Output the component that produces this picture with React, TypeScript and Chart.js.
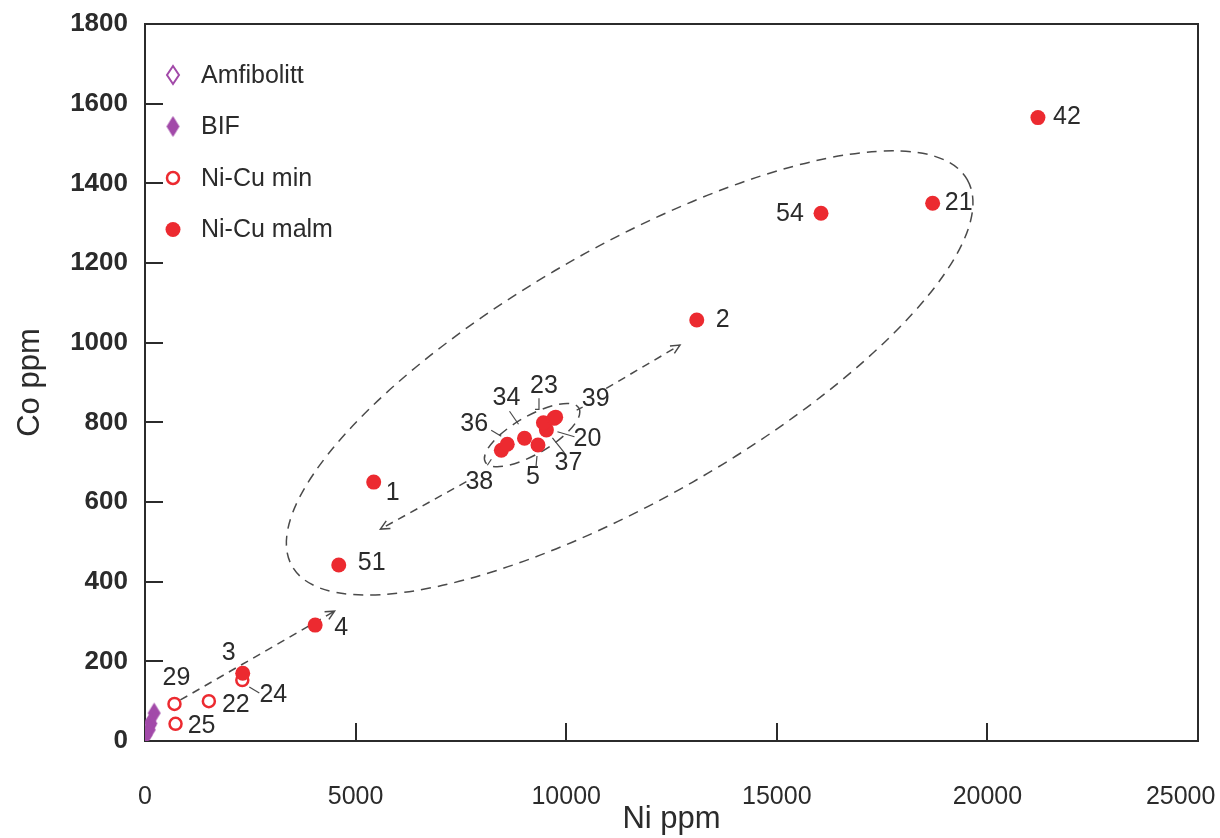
import { useEffect, useRef } from "react";
import { Chart, registerables } from "chart.js";

Chart.register(...registerables);

const FONT = "'Liberation Sans', Arial, Helvetica, sans-serif";
const RED = "#ec2a30";
const PURPLE = "#a24aa9";
const INK = "#2b2b2b";
const LINE = "#4a4a4a";

// Ni-Cu malm (massive ore samples)
const malmIds = ["42", "21", "54", "2", "1", "51", "4", "3", "38", "36", "34", "5", "37", "20", "23", "39"];
const malmNi = [21200, 18700, 16050, 13100, 5430, 4600, 4040, 2320, 8460, 8600, 9010, 9330, 9530, 9460, 9710, 9750];
const malmCo = [1565, 1350, 1325, 1057, 650, 442, 291, 170, 730, 745, 760, 743, 781, 799, 810, 813];

// Ni-Cu min (mineralised samples)
const minIds = ["29", "22", "25", "24"];
const minNi = [700, 1516, 725, 2310];
const minCo = [93, 100, 43, 153];

// BIF
const bifNi = [218, 139, 100, 19];
const bifCo = [70, 44, 28, 15];

// Amfibolitt
const amfNi = [100];
const amfCo = [40];

const legendOrder = ["Amfibolitt", "BIF", "Ni-Cu min", "Ni-Cu malm"];

// Sample-number label placement: [dx, dy] from the marker centre, in px
const labelOffsets: Record<string, [number, number]> = {
  "42": [29, 0], "21": [26, 0], "54": [-31, 1], "2": [26, 0], "1": [19, 11], "51": [33, -2],
  "4": [26, 3], "3": [-14, -20], "38": [-22, 32], "36": [-33, -20], "34": [-18, -40],
  "5": [-5, 32], "37": [22, 33], "20": [44, 16], "23": [-10, -32], "39": [40, -18],
  "29": [2, -26], "22": [27, 4], "25": [26, 2], "24": [31, 15],
};

// Leader lines (polylines relative to the marker centre, px)
const leaders: Record<string, number[][]> = {
  "38": [[-14, 15], [-10, 9]],
  "36": [[-16, -14], [-6, -8]],
  "34": [[-15, -27], [-6, -14]],
  "5": [[-2, 22], [-1, 11]],
  "37": [[18, 23], [6, 8]],
  "20": [[31, 14], [14, 9]],
  "23": [[-15, -20], [-15, -9], [-19, -9]],
  "39": [[27, -10], [21, -7]],
  "24": [[7, 7], [17, 13]],
};

// Dashed envelopes: centre in data units, radii in px, rotation in degrees
const envelopeNi = [11507, 9191];
const envelopeCo = [924, 768];
const envelopeRx = [389, 54];
const envelopeRy = [126, 19];
const envelopeRot = [-29.8, -30];

// Dashed trend arrows (data units), head at the "to" end
const arrowFromNi = [840, 7630, 10950];
const arrowFromCo = [103, 651, 885];
const arrowToNi = [4500, 5590, 12700];
const arrowToCo = [326, 532, 994];

function diamond(w: number, h: number, fill: string | null, stroke: string | null, lw: number) {
  const c = document.createElement("canvas");
  const pad = lw + 1;
  c.width = w + pad * 2;
  c.height = h + pad * 2;
  const ctx = c.getContext("2d")!;
  ctx.beginPath();
  ctx.moveTo(c.width / 2, pad);
  ctx.lineTo(c.width - pad, c.height / 2);
  ctx.lineTo(c.width / 2, c.height - pad);
  ctx.lineTo(pad, c.height / 2);
  ctx.closePath();
  if (fill) {
    ctx.fillStyle = fill;
    ctx.fill();
  }
  if (stroke) {
    ctx.lineWidth = lw;
    ctx.strokeStyle = stroke;
    ctx.stroke();
  }
  return c;
}

const toPoints = (xs: number[], ys: number[]) => xs.map((x, i) => ({ x, y: ys[i] }));

export default function App() {
  const ref = useRef<HTMLCanvasElement>(null);

  useEffect(() => {
    const canvas = ref.current;
    if (!canvas) return;

    const bifMark = diamond(13, 21, PURPLE, null, 0);
    const amfMark = diamond(12, 18, "#ffffff", PURPLE, 2);

    const annotations = {
      id: "annotations",
      beforeDatasetsDraw(chart: any) {
        const { ctx, scales } = chart;
        const xs = scales.x;
        const ys = scales.y;
        ctx.save();
        ctx.strokeStyle = LINE;
        ctx.lineWidth = 1.5;
        // envelopes
        ctx.setLineDash([10, 7]);
        envelopeNi.forEach((ni, i) => {
          const cx = xs.getPixelForValue(ni);
          const cy = ys.getPixelForValue(envelopeCo[i]);
          ctx.beginPath();
          ctx.ellipse(cx, cy, envelopeRx[i], envelopeRy[i], (envelopeRot[i] * Math.PI) / 180, 0, Math.PI * 2);
          ctx.stroke();
        });
        // arrows
        arrowFromNi.forEach((ni, i) => {
          const x1 = xs.getPixelForValue(ni);
          const y1 = ys.getPixelForValue(arrowFromCo[i]);
          const x2 = xs.getPixelForValue(arrowToNi[i]);
          const y2 = ys.getPixelForValue(arrowToCo[i]);
          ctx.setLineDash([8, 6]);
          ctx.beginPath();
          ctx.moveTo(x1, y1);
          ctx.lineTo(x2, y2);
          ctx.stroke();
          const ang = Math.atan2(y2 - y1, x2 - x1);
          ctx.setLineDash([]);
          ctx.beginPath();
          ctx.moveTo(x2 - 10 * Math.cos(ang - 0.45), y2 - 10 * Math.sin(ang - 0.45));
          ctx.lineTo(x2, y2);
          ctx.lineTo(x2 - 10 * Math.cos(ang + 0.45), y2 - 10 * Math.sin(ang + 0.45));
          ctx.stroke();
        });
        ctx.restore();
      },
      afterDatasetsDraw(chart: any) {
        const { ctx, chartArea } = chart;
        ctx.save();
        // frame on top and right
        ctx.strokeStyle = INK;
        ctx.lineWidth = 2;
        ctx.beginPath();
        ctx.moveTo(chartArea.left, chartArea.top);
        ctx.lineTo(chartArea.right, chartArea.top);
        ctx.lineTo(chartArea.right, chartArea.bottom);
        ctx.stroke();

        // sample labels and leaders
        ctx.font = `25px ${FONT}`;
        ctx.fillStyle = INK;
        ctx.textAlign = "center";
        ctx.textBaseline = "middle";
        const idSets: Record<string, string[]> = { "Ni-Cu malm": malmIds, "Ni-Cu min": minIds };
        chart.data.datasets.forEach((ds: any, di: number) => {
          const ids = idSets[ds.label];
          if (!ids) return;
          const meta = chart.getDatasetMeta(di);
          meta.data.forEach((pt: any, j: number) => {
            const id = ids[j];
            const off = labelOffsets[id];
            if (off) ctx.fillText(id, pt.x + off[0], pt.y + off[1]);
            const ld = leaders[id];
            if (ld) {
              ctx.strokeStyle = LINE;
              ctx.lineWidth = 1.2;
              ctx.beginPath();
              ld.forEach((p, k) => (k === 0 ? ctx.moveTo(pt.x + p[0], pt.y + p[1]) : ctx.lineTo(pt.x + p[0], pt.y + p[1])));
              ctx.stroke();
            }
          });
        });

        // legend in the upper-left corner of the plot
        const lx = chartArea.left + 28;
        legendOrder.forEach((name, k) => {
          const ly = chartArea.top + 51 + k * 51.5;
          const ds = chart.data.datasets.find((d: any) => d.label === name);
          if (!ds) return;
          if (ds.pointStyle instanceof HTMLCanvasElement) {
            const img = ds.pointStyle as HTMLCanvasElement;
            ctx.drawImage(img, lx - img.width / 2, ly - img.height / 2);
          } else {
            ctx.beginPath();
            ctx.arc(lx, ly, ds.pointRadius, 0, Math.PI * 2);
            ctx.fillStyle = ds.backgroundColor;
            ctx.fill();
            if (ds.borderWidth) {
              ctx.lineWidth = ds.borderWidth;
              ctx.strokeStyle = ds.borderColor;
              ctx.stroke();
            }
          }
          ctx.font = `25px ${FONT}`;
          ctx.fillStyle = INK;
          ctx.textAlign = "left";
          ctx.fillText(name, lx + 28, ly + 1);
        });
        ctx.restore();
      },
    };

    const chart = new Chart(canvas, {
      type: "scatter",
      data: {
        datasets: [
          {
            label: "Ni-Cu malm",
            data: toPoints(malmNi, malmCo),
            pointStyle: "circle",
            pointRadius: 7.5,
            backgroundColor: RED,
            borderColor: RED,
            borderWidth: 0,
            order: 0,
          },
          {
            label: "Ni-Cu min",
            data: toPoints(minNi, minCo),
            pointStyle: "circle",
            pointRadius: 6,
            backgroundColor: "#ffffff",
            borderColor: RED,
            borderWidth: 2.5,
            order: 1,
          },
          {
            label: "BIF",
            data: toPoints(bifNi, bifCo),
            pointStyle: bifMark,
            backgroundColor: PURPLE,
            borderColor: PURPLE,
            order: 2,
          },
          {
            label: "Amfibolitt",
            data: toPoints(amfNi, amfCo),
            pointStyle: amfMark,
            backgroundColor: "#ffffff",
            borderColor: PURPLE,
            order: 3,
          },
        ] as any,
      },
      options: {
        responsive: false,
        animation: false,
        layout: { padding: { top: 24, right: 22, left: 0, bottom: 0 } },
        plugins: { legend: { display: false }, tooltip: { enabled: false } },
        scales: {
          x: {
            type: "linear",
            min: 0,
            max: 25000,
            afterFit: (s: any) => {
              s.height = 97;
              s.paddingLeft = 0;
              s.paddingRight = 0;
            },
            ticks: {
              stepSize: 5000,
              padding: 59,
              color: INK,
              maxRotation: 0,
              font: { family: FONT, size: 25 },
              // keep the last label inside the canvas
              callback: (v: any) => (v === 25000 ? String(v) + "\u00a0".repeat(5) : String(v)),
            },
            grid: { drawOnChartArea: false, drawTicks: true, tickLength: -18, color: INK, lineWidth: 2 },
            border: { display: true, color: INK, width: 2 },
            title: {
              display: true,
              text: "Ni ppm",
              color: INK,
              font: { family: FONT, size: 31 },
              padding: { top: 0, bottom: 0 },
            },
          },
          y: {
            type: "linear",
            min: 0,
            max: 1800,
            afterFit: (s: any) => {
              s.width = 145;
              s.paddingTop = 0;
              s.paddingBottom = 0;
            },
            ticks: {
              stepSize: 200,
              padding: 35,
              color: INK,
              font: { family: FONT, size: 26, weight: "bold" },
              callback: (v: any) => String(v),
            },
            grid: { drawOnChartArea: false, drawTicks: true, tickLength: -18, color: INK, lineWidth: 2 },
            border: { display: true, color: INK, width: 2 },
            title: {
              display: true,
              text: "Co ppm",
              color: INK,
              font: { family: FONT, size: 31 },
              padding: { top: 12, bottom: 0 },
            },
          },
        },
      } as any,
      plugins: [annotations],
    });

    return () => chart.destroy();
  }, []);

  return (
    <div style={{ position: "absolute", left: 0, top: 0, width: 1220, height: 838, background: "#ffffff" }}>
      <canvas ref={ref} width={1220} height={838} style={{ display: "block" }} />
    </div>
  );
}
